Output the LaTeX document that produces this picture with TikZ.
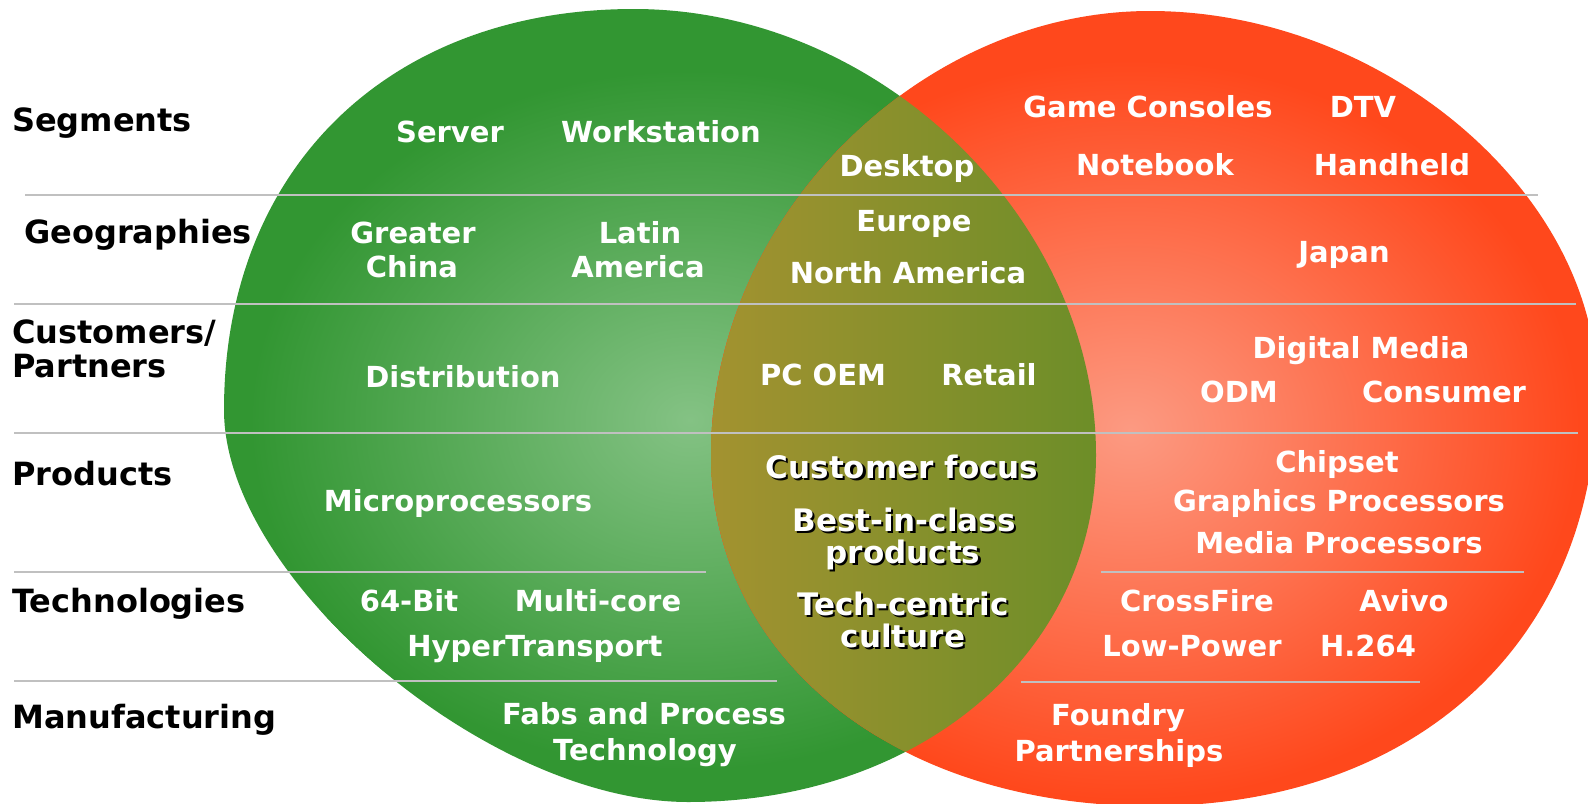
\documentclass[tikz,border=0pt]{standalone}
\usepackage{fontspec}
\setmainfont{DejaVu Sans}
\definecolor{gdark}{RGB}{50,150,50}
\definecolor{glight}{RGB}{132,194,132}
\definecolor{rdark}{RGB}{255,72,28}
\definecolor{rlight}{RGB}{252,154,130}
\definecolor{lensL}{RGB}{164,146,48}
\definecolor{lensR}{RGB}{108,142,40}
\definecolor{sepgray}{RGB}{192,192,192}
\newcommand\shd[1]{\rlap{\kern2.2pt\raisebox{-2.2pt}{\color{black}#1}}#1}
\tikzset{
  wtxt/.style={anchor=base, text=white, font=\fontsize{29}{34}\selectfont\bfseries, inner sep=0pt},
  ltxt/.style={anchor=base west, text=black, font=\fontsize{32}{36}\selectfont\bfseries, inner sep=0pt},
  stxt/.style={anchor=base, text=white, font=\fontsize{31}{34}\selectfont\bfseries, inner sep=0pt},
  sepline/.style={draw=sepgray, line width=2.6pt},
}
\def\greenpath{(224,410) .. controls (224,169.4) and (388,9) .. (634,9)
  .. controls (878.9,9) and (1096,218.6) .. (1096,455)
  .. controls (1096,652.8) and (920.6,802) .. (688,802)
  .. controls (488.5,802) and (224,578.6) .. cycle}
\def\redpath{(711,455) .. controls (711,219.7) and (917.3,11) .. (1150,11)
  .. controls (1382.4,11) and (1597,192.9) .. (1597,390)
  .. controls (1597,639.6) and (1418.2,806) .. (1150,806)
  .. controls (895.4,806) and (711,658.6) .. cycle}
\begin{document}
\begin{tikzpicture}[x=1pt,y=-1pt]
\useasboundingbox (0,0) rectangle (1588,804);
\fill[white] (0,0) rectangle (1588,804);
\begin{scope}
\clip (0,0) rectangle (1588,804);
% green set
\begin{scope}
\clip \greenpath;
\fill[gdark] (0,0) rectangle (1588,804);
\shade[inner color=glight, outer color=gdark] (690,420) ellipse [x radius=440pt, y radius=350pt];
\end{scope}
% red set
\begin{scope}
\clip \redpath;
\fill[rdark] (0,0) rectangle (1588,804);
\shade[inner color=rlight, outer color=rdark] (1130,430) ellipse [x radius=450pt, y radius=370pt];
\end{scope}
% overlap
\begin{scope}
\clip \greenpath;
\clip \redpath;
\shade[left color=lensL, right color=lensR] (705,90) rectangle (1100,760);
\end{scope}
% separators
\draw[sepline] (25,195) -- (1538,195);
\draw[sepline] (14,304) -- (1576,304);
\draw[sepline] (14,433) -- (1578,433);
\draw[sepline] (14,572) -- (706,572);
\draw[sepline] (1101,572) -- (1524,572);
\draw[sepline] (14,681) -- (777,681);
\draw[sepline] (1021,682) -- (1420,682);
\end{scope}
% row labels
\node[ltxt] (segL) at (12,131.5) {Segments};
\node[ltxt] (geoL) at (24,243) {Geographies};
\node[ltxt] (cusL1) at (12,343) {Customers/};
\node[ltxt] (cusL2) at (12,377) {Partners};
\node[ltxt] (prodL) at (12,485) {Products};
\node[ltxt] (techL) at (12,612) {Technologies};
\node[ltxt] (manL) at (12,728) {Manufacturing};
% green region
\node[wtxt] (server) at (450,142) {Server};
\node[wtxt] (workst) at (661,142) {Workstation};
\node[wtxt] (greater) at (413,243) {Greater};
\node[wtxt] (china) at (412,277) {China};
\node[wtxt] (latin) at (640,243) {Latin};
\node[wtxt] (america) at (638,277) {America};
\node[wtxt] (distrib) at (463,387) {Distribution};
\node[wtxt] (micro) at (458,511) {Microprocessors};
\node[wtxt] (bit64) at (409,611) {64-Bit};
\node[wtxt] (multicore) at (598,611) {Multi-core};
\node[wtxt] (hyper) at (535,656) {HyperTransport};
\node[wtxt] (fabs) at (644,724) {Fabs and Process};
\node[wtxt] (technology) at (645,760) {Technology};
% overlap
\node[wtxt] (desktop) at (907,176) {Desktop};
\node[wtxt] (europe) at (914,231) {Europe};
\node[wtxt] (northam) at (908,283) {North America};
\node[wtxt] (pcoem) at (823,385) {PC OEM};
\node[wtxt] (retail) at (989,385) {Retail};
\node[stxt] (custfocus) at (902,478) {\shd{Customer focus}};
\node[stxt] (bestin) at (904,531) {\shd{Best-in-class}};
\node[stxt] (products) at (903,563) {\shd{products}};
\node[stxt] (techcen) at (903,615) {\shd{Tech-centric}};
\node[stxt] (culture) at (903,647) {\shd{culture}};
% red region
\node[wtxt] (game) at (1148,117) {Game Consoles};
\node[wtxt] (dtv) at (1363,117) {DTV};
\node[wtxt] (notebook) at (1155,175) {Notebook};
\node[wtxt] (handheld) at (1392,175) {Handheld};
\node[wtxt] (japan) at (1344,262) {Japan};
\node[wtxt] (digital) at (1361,358) {Digital Media};
\node[wtxt] (odm) at (1239,402) {ODM};
\node[wtxt] (consumer) at (1444,402) {Consumer};
\node[wtxt] (chipset) at (1337,472) {Chipset};
\node[wtxt] (graphics) at (1339,511) {Graphics Processors};
\node[wtxt] (mediap) at (1339,553) {Media Processors};
\node[wtxt] (crossfire) at (1197,611) {CrossFire};
\node[wtxt] (avivo) at (1404,611) {Avivo};
\node[wtxt] (lowpower) at (1192,656) {Low-Power};
\node[wtxt] (h264) at (1368,656) {H.264};
\node[wtxt] (foundry) at (1118,725) {Foundry};
\node[wtxt] (partner) at (1119,761) {Partnerships};
\end{tikzpicture}
\end{document}
